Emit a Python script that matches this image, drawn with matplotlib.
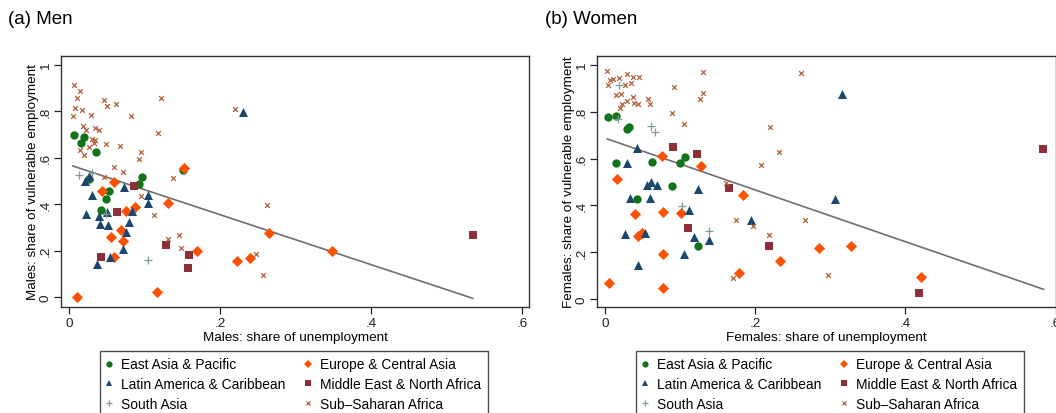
import matplotlib
matplotlib.use("Agg")
import matplotlib.pyplot as plt
from matplotlib.lines import Line2D
import numpy as np

plt.rcParams['font.family'] = ['Liberation Sans', 'DejaVu Sans']

# ---------------- data ----------------
regions = ["East Asia & Pacific", "Europe & Central Asia", "Latin America & Caribbean",
           "Middle East & North Africa", "South Asia", "Sub\u2013Saharan Africa"]

# Men
men_eap_x = [0.006, 0.020, 0.016, 0.036, 0.097, 0.093, 0.053, 0.049, 0.042, 0.026, 0.151]
men_eap_y = [0.698, 0.690, 0.662, 0.625, 0.518, 0.488, 0.455, 0.422, 0.373, 0.509, 0.549]
men_eca_x = [0.010, 0.044, 0.060, 0.056, 0.069, 0.071, 0.060, 0.075, 0.087, 0.131, 0.152,
             0.170, 0.117, 0.223, 0.240, 0.265, 0.349]
men_eca_y = [0.002, 0.458, 0.494, 0.257, 0.289, 0.243, 0.171, 0.372, 0.387, 0.405, 0.555,
             0.197, 0.020, 0.155, 0.168, 0.278, 0.200]
men_lac_x = [0.021, 0.030, 0.0225, 0.040, 0.050, 0.041, 0.051, 0.080, 0.076, 0.084, 0.072,
             0.054, 0.037, 0.073, 0.105, 0.105, 0.027, 0.230]
men_lac_y = [0.498, 0.441, 0.356, 0.349, 0.365, 0.313, 0.311, 0.322, 0.279, 0.370, 0.208,
             0.171, 0.143, 0.476, 0.439, 0.405, 0.520, 0.796]
men_mena_x = [0.086, 0.064, 0.042, 0.128, 0.159, 0.157, 0.535]
men_mena_y = [0.478, 0.365, 0.171, 0.226, 0.181, 0.125, 0.268]
men_sa_x = [0.013, 0.049, 0.104, 0.030]
men_sa_y = [0.525, 0.358, 0.160, 0.533]
men_ssa_x = [0.007, 0.014, 0.011, 0.008, 0.017, 0.005, 0.029, 0.047, 0.050, 0.062, 0.082,
             0.122, 0.019, 0.023, 0.034, 0.040, 0.030, 0.034, 0.026, 0.033, 0.049, 0.068,
             0.015, 0.020, 0.118, 0.096, 0.093, 0.059, 0.071, 0.138, 0.046, 0.095, 0.113,
             0.146, 0.149, 0.131, 0.220, 0.262, 0.248, 0.257]
men_ssa_y = [0.912, 0.887, 0.859, 0.813, 0.805, 0.779, 0.783, 0.848, 0.823, 0.833, 0.779,
             0.856, 0.737, 0.720, 0.730, 0.720, 0.680, 0.677, 0.648, 0.665, 0.661, 0.651,
             0.632, 0.611, 0.705, 0.626, 0.593, 0.562, 0.540, 0.514, 0.519, 0.436, 0.354,
             0.269, 0.213, 0.250, 0.811, 0.397, 0.187, 0.095]
men_fit = (0.5704, -1.077)   # intercept, slope of fitted line

# Women
wom_eap_x = [0.004, 0.015, 0.029, 0.032, 0.014, 0.063, 0.100, 0.106, 0.089, 0.042, 0.124]
wom_eap_y = [0.778, 0.782, 0.725, 0.735, 0.582, 0.585, 0.583, 0.605, 0.484, 0.426, 0.228]
wom_eca_x = [0.005, 0.016, 0.076, 0.128, 0.040, 0.077, 0.101, 0.044, 0.049, 0.077, 0.077,
             0.184, 0.179, 0.233, 0.285, 0.328, 0.421]
wom_eca_y = [0.068, 0.513, 0.611, 0.567, 0.363, 0.370, 0.366, 0.271, 0.281, 0.192, 0.046,
             0.446, 0.110, 0.161, 0.216, 0.226, 0.096]
wom_lac_x = [0.042, 0.029, 0.056, 0.061, 0.069, 0.033, 0.060, 0.124, 0.112, 0.027, 0.053,
             0.118, 0.139, 0.105, 0.044, 0.195, 0.315, 0.306]
wom_lac_y = [0.645, 0.583, 0.487, 0.499, 0.487, 0.431, 0.432, 0.472, 0.380, 0.278, 0.281,
             0.264, 0.254, 0.192, 0.147, 0.336, 0.875, 0.429]
wom_mena_x = [0.091, 0.123, 0.165, 0.110, 0.218, 0.584, 0.418]
wom_mena_y = [0.651, 0.620, 0.473, 0.303, 0.228, 0.641, 0.024]
wom_sa_x = [0.019, 0.017, 0.061, 0.067, 0.103, 0.139]
wom_sa_y = [0.914, 0.770, 0.741, 0.715, 0.399, 0.290]
wom_ssa_x = [0.003, 0.006, 0.010, 0.018, 0.004, 0.029, 0.037, 0.045, 0.027, 0.034, 0.014,
             0.021, 0.037, 0.029, 0.022, 0.020, 0.038, 0.044, 0.057, 0.060, 0.092, 0.089,
             0.105, 0.131, 0.131, 0.126, 0.161, 0.175, 0.170, 0.197, 0.208, 0.220, 0.232,
             0.218, 0.261, 0.267, 0.297]
wom_ssa_y = [0.975, 0.937, 0.939, 0.943, 0.914, 0.963, 0.949, 0.950, 0.913, 0.924, 0.871,
             0.877, 0.864, 0.846, 0.832, 0.818, 0.839, 0.835, 0.853, 0.835, 0.907, 0.796,
             0.749, 0.971, 0.882, 0.853, 0.496, 0.339, 0.089, 0.311, 0.571, 0.735, 0.626,
             0.274, 0.965, 0.337, 0.103]
wom_fit = (0.687, -1.105)

x_ticks = [0, 0.2, 0.4, 0.6]
x_tick_labels = ["0", ".2", ".4", ".6"]
y_ticks = [0, 0.2, 0.4, 0.6, 0.8, 1.0]
y_tick_labels = ["0", ".2", ".4", ".6", ".8", "1"]

# ---------------- styles ----------------
styles = {
    "East Asia & Pacific": dict(marker="o", color="#12731a", s=36),
    "Europe & Central Asia": dict(marker="D", color="#ff5000", s=32),
    "Latin America & Caribbean": dict(marker="^", color="#1a476f", s=42),
    "Middle East & North Africa": dict(marker="s", color="#8e2f38", s=32),
    "South Asia": dict(marker="+", color="#7d9e96", s=30),
    "Sub\u2013Saharan Africa": dict(marker="x", color="#b5603c", s=12),
}

W, H = 1056, 414
fig = plt.figure(figsize=(W / 100, H / 100), dpi=100)


def rect(l, r, t, b):
    return [l / W, 1 - b / H, (r - l) / W, (b - t) / H]


def panel(ax, data, fit, xlab, ylab, xlim, ylim):
    for name, (xs, ys) in zip(regions, data):
        st = styles[name]
        lw = 0.9 if st["marker"] in ("+", "x") else 0
        ax.scatter(xs, ys, marker=st["marker"], s=st["s"], color=st["color"],
                   linewidths=lw, zorder=3)
    allx = np.concatenate([np.asarray(d[0]) for d in data])
    fx = np.array([allx.min(), allx.max()])
    ax.plot(fx, fit[0] + fit[1] * fx, color="#6f6f6f", lw=1.2, zorder=2)
    ax.set_xlim(*xlim)
    ax.set_ylim(*ylim)
    ax.set_xticks(x_ticks)
    ax.set_xticklabels(x_tick_labels)
    ax.set_yticks(y_ticks)
    ax.set_yticklabels(y_tick_labels, rotation=90, va="center")
    ax.tick_params(axis="both", direction="out", length=5, width=0.9,
                   labelsize=9.7, colors="#222222")
    ax.tick_params(axis="x", pad=2)
    ax.tick_params(axis="y", pad=1.5)
    for sp in ax.spines.values():
        sp.set_color("#333333")
        sp.set_linewidth(1.0)
    ax.set_xlabel(xlab, fontsize=9.7, labelpad=2)
    ax.set_ylabel(ylab, fontsize=9.7, labelpad=1)


ax1 = fig.add_axes(rect(61, 529, 57, 308))
ax2 = fig.add_axes(rect(597, 1055.5, 57, 308))

men_data = [(men_eap_x, men_eap_y), (men_eca_x, men_eca_y), (men_lac_x, men_lac_y),
            (men_mena_x, men_mena_y), (men_sa_x, men_sa_y), (men_ssa_x, men_ssa_y)]
wom_data = [(wom_eap_x, wom_eap_y), (wom_eca_x, wom_eca_y), (wom_lac_x, wom_lac_y),
            (wom_mena_x, wom_mena_y), (wom_sa_x, wom_sa_y), (wom_ssa_x, wom_ssa_y)]

panel(ax1, men_data, men_fit, "Males: share of unemployment",
      "Males: share of vulnerable employment", (-0.0106, 0.6093), (-0.043, 1.039))
panel(ax2, wom_data, wom_fit, "Females: share of unemployment",
      "Females: share of vulnerable employment", (-0.0107, 0.6), (-0.034, 1.038))

fig.text(8 / W, 1 - 20 / H, "(a) Men", fontsize=13.5, va="center", ha="left")
fig.text(545 / W, 1 - 20 / H, "(b) Women", fontsize=13.5, va="center", ha="left")

# legend (column-wise order so rows read EAP|ECA, LAC|MENA, SA|SSA)
order = [0, 2, 4, 1, 3, 5]


def make_handles():
    hs = []
    for i in order:
        st = styles[regions[i]]
        ms = np.sqrt(st["s"]) * 0.75
        mew = 0.9 if st["marker"] in ("+", "x") else 0
        hs.append(Line2D([], [], ls="none", marker=st["marker"], color=st["color"],
                         markersize=ms, markeredgewidth=mew))
    return hs


for ax, lx in ((ax1, 100), (ax2, 636)):
    leg = ax.legend(make_handles(), [regions[i] for i in order], loc="upper left",
                    bbox_to_anchor=(lx / W, 1 - 352 / H), bbox_transform=fig.transFigure,
                    ncol=2, fontsize=9.9, frameon=True, fancybox=False,
                    handlelength=0.4, handletextpad=0.66, columnspacing=1.45,
                    borderpad=0.47, labelspacing=0.42, borderaxespad=0)
    leg.get_frame().set_edgecolor("#222222")
    leg.get_frame().set_linewidth(1.0)

fig.savefig("out.png", dpi=100)
